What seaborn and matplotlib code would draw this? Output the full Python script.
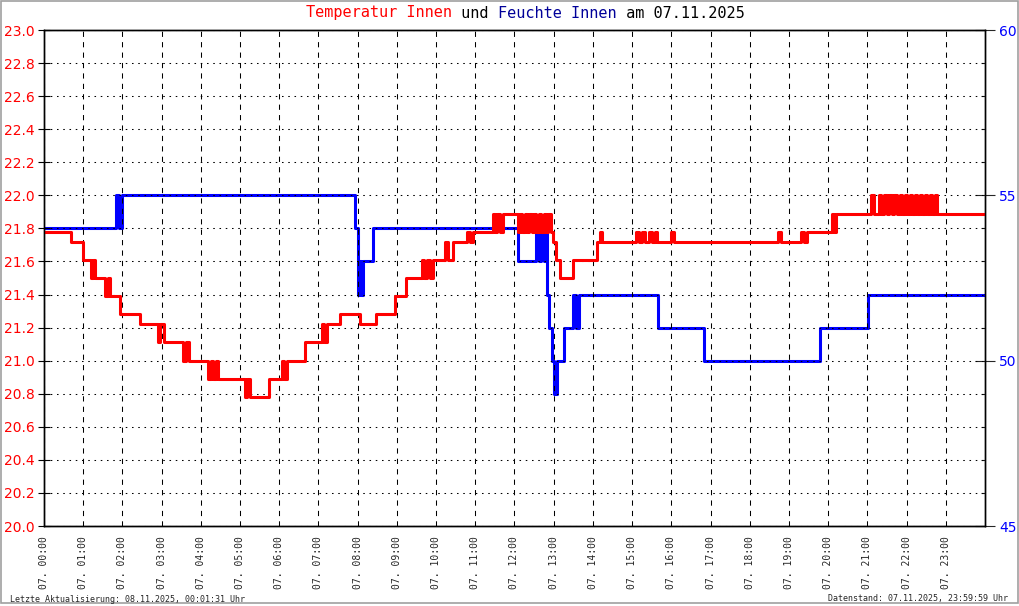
import numpy as np
import pandas as pd
import matplotlib
matplotlib.use('Agg')
import matplotlib.pyplot as plt
import seaborn as sns
from matplotlib.patches import Rectangle

# Temperatur Innen (Stufenwerte, Stunde des Tages -> Grad C)
temp_hours = [0.00, 0.70, 1.00, 1.20, 1.25, 1.30, 1.55, 1.62, 1.69, 1.94, 2.45,
              2.90, 2.97, 3.05, 3.55, 3.62, 3.69,
              4.18, 4.25, 4.32, 4.38, 4.44, 5.12, 5.19, 5.26, 5.32, 5.73,
              6.06, 6.13, 6.21, 6.65, 7.08, 7.15, 7.21, 7.54, 7.62, 8.05, 8.46,
              8.94, 9.24, 9.30, 9.63, 9.70, 9.77, 9.84, 9.91,
              10.24, 10.31, 10.42, 10.48, 10.80, 10.87, 10.93,
              11.44, 11.50, 11.56, 11.64, 11.70,
              12.08, 12.14, 12.20, 12.26, 12.32, 12.38, 12.44, 12.50, 12.56, 12.62, 12.68,
              12.74, 12.80, 12.86, 12.93,
              12.97, 13.07, 13.17, 13.48,
              14.11, 14.17, 14.23, 15.10, 15.18, 15.26, 15.34, 15.42, 15.50, 15.58, 15.64,
              16.00, 16.06, 18.72, 18.80, 19.30, 19.38, 19.46, 19.52,
              20.10, 20.15, 20.20, 21.10, 21.16, 21.30, 21.36, 21.43, 21.49, 21.56, 21.62,
              21.69, 21.75, 21.82, 21.88, 21.95, 22.01, 22.08, 22.14, 22.21, 22.27, 22.34,
              22.40, 22.47, 22.53, 22.60, 22.66, 22.72, 22.78,
              24.00]
temp_values = [21.78, 21.72, 21.61, 21.50, 21.61, 21.50, 21.39, 21.50, 21.39, 21.28, 21.22,
               21.11, 21.22, 21.11, 21.00, 21.11, 21.00,
               20.89, 21.00, 20.89, 21.00, 20.89, 20.78, 20.89, 20.78, 20.78, 20.89,
               21.00, 20.89, 21.00, 21.11, 21.22, 21.11, 21.22, 21.28, 21.28, 21.22, 21.28,
               21.39, 21.50, 21.50, 21.61, 21.50, 21.61, 21.50, 21.61,
               21.72, 21.61, 21.72, 21.72, 21.78, 21.72, 21.78,
               21.89, 21.78, 21.89, 21.78, 21.89,
               21.78, 21.89, 21.78, 21.89, 21.78, 21.89, 21.78, 21.89, 21.78, 21.89, 21.78,
               21.89, 21.78, 21.89, 21.78,
               21.72, 21.61, 21.50, 21.61,
               21.72, 21.78, 21.72, 21.78, 21.72, 21.78, 21.72, 21.78, 21.72, 21.78, 21.72,
               21.78, 21.72, 21.78, 21.72, 21.78, 21.72, 21.78, 21.78,
               21.89, 21.78, 21.89, 22.00, 21.89, 22.00, 21.89, 22.00, 21.89, 22.00, 21.89,
               22.00, 21.89, 22.00, 21.89, 22.00, 21.89, 22.00, 21.89, 22.00, 21.89, 22.00,
               21.89, 22.00, 21.89, 22.00, 21.89, 22.00, 21.89,
               21.89]

# Feuchte Innen (Stufenwerte, Stunde -> %)
hum_hours = [0.00, 1.84, 1.91, 1.98, 2.06, 7.93, 8.00, 8.04, 8.08, 8.13, 8.38,
             12.08, 12.56, 12.62, 12.68, 12.74, 12.80, 12.84, 12.89, 12.95,
             13.02, 13.08, 13.27, 13.50, 13.57, 13.65,
             15.66, 16.84, 19.80, 21.01, 24.00]
hum_values = [54, 55, 54, 55, 55, 54, 52, 53, 52, 53, 54,
              53, 54, 53, 54, 53, 54, 52, 51, 50,
              49, 50, 51, 52, 51, 52,
              51, 50, 51, 52, 52]

hour_labels = [f'07. {h:02d}:00' for h in range(24)]
temp_ticks = np.round(np.arange(20.0, 23.01, 0.2), 1)
hum_ticks = [45, 50, 55, 60]

sns.set_style('white')
plt.rcParams['font.family'] = ['DejaVu Sans']

fig = plt.figure(figsize=(10.2, 6.06), dpi=100)
ax = fig.add_axes([44 / 1020, 80 / 606, 941 / 1020, 496 / 606])
ax2 = ax.twinx()

temp_df = pd.DataFrame({'Stunde': temp_hours, 'Temperatur': temp_values})
hum_df = pd.DataFrame({'Stunde': hum_hours, 'Feuchte': hum_values})

sns.lineplot(data=hum_df, x='Stunde', y='Feuchte', ax=ax2, color='#0000ff', lw=2.2,
             drawstyle='steps-post', estimator=None, sort=False)
sns.lineplot(data=temp_df, x='Stunde', y='Temperatur', ax=ax, color='#ff0000', lw=2.2,
             drawstyle='steps-post', estimator=None, sort=False)

# rote Kurve und Gitter oberhalb der blauen Kurve
ax.set_zorder(ax2.get_zorder() + 1)
ax.patch.set_visible(False)

ax.set_xlim(0, 24)
ax.set_ylim(20, 23)
ax2.set_ylim(45, 60)

ax.set_xticks(range(24))
ax.set_xticklabels(hour_labels, rotation=90, fontsize=7, family='DejaVu Sans Mono')
ax.set_yticks(temp_ticks)
ax.set_yticklabels([f'{v:.1f}' for v in temp_ticks], color='#ff0000', fontsize=10)
ax2.set_yticks(hum_ticks)
ax2.set_yticks(range(45, 61), minor=True)
ax2.set_yticklabels([str(v) for v in hum_ticks], color='#0000ff', fontsize=10)

ax.tick_params(axis='x', direction='inout', length=9, width=0.8, pad=3, color='black')
ax.tick_params(axis='y', direction='inout', length=9, width=0.8, pad=2, color='black')
ax2.tick_params(axis='y', which='major', direction='inout', length=14, width=0.8, pad=3)
ax2.tick_params(axis='y', which='minor', direction='in', length=3, width=0.8)

ax.xaxis.grid(True, color='black', lw=0.75, linestyle=(0, (5, 5)))
ax.yaxis.grid(True, color='black', lw=0.75, linestyle=(0, (1.5, 4.5)))
ax.set_xlabel('')
ax.set_ylabel('')
ax2.set_ylabel('')
for a in (ax, ax2):
    for s in a.spines.values():
        s.set_color('black')
        s.set_linewidth(1.0)

# Titel in mehreren Farben
parts = [('Temperatur Innen', '#ff0000'), (' und ', 'black'),
         ('Feuchte Innen', '#000099'), (' am 07.11.2025', 'black')]
full = ''.join(p for p, c in parts)
renderer = fig.canvas.get_renderer()
probe = fig.text(0, 0, full, fontsize=11, family='DejaVu Sans Mono')
w = probe.get_window_extent(renderer).width / fig.bbox.width
probe.remove()
char_w = w / len(full)
x = 525.5 / 1020 - w / 2
for p, c in parts:
    fig.text(x, 1 - 13 / 606, p, color=c, fontsize=11, family='DejaVu Sans Mono',
             ha='left', va='center')
    x += char_w * len(p)

fig.text(10 / 1020, 1 - 599 / 606, 'Letzte Aktualisierung: 08.11.2025, 00:01:31 Uhr',
         fontsize=6, family='DejaVu Sans Mono', ha='left', va='center')
fig.text(1008 / 1020, 1 - 599 / 606, 'Datenstand: 07.11.2025, 23:59:59 Uhr',
         fontsize=6, family='DejaVu Sans Mono', ha='right', va='center')

fig.patches.append(Rectangle((0.5 / 1020, 3 / 606), 1017.5 / 1020, 602.5 / 606,
                             transform=fig.transFigure, fill=False,
                             edgecolor='#a0a0a0', lw=1.2))

fig.savefig('out.png', dpi=100)
